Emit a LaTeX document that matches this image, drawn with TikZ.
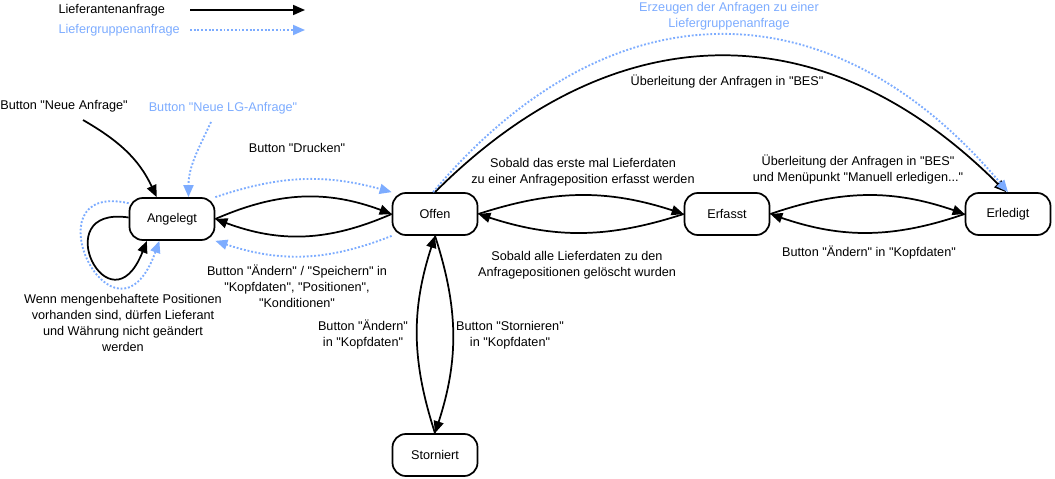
\documentclass[tikz,border=0pt]{standalone}
\usepackage{fontspec}
\setmainfont{Liberation Sans}[Ligatures=TeXOff]
\usetikzlibrary{arrows.meta, calc}
\definecolor{lgblue}{RGB}{125,172,255}
\tikzset{
  txt/.style={font=\fontsize{9.5}{12}\selectfont, align=center, inner sep=1pt},
  state/.style={txt, draw, line width=1.3pt, rounded corners=10pt, minimum width=63.75pt, minimum height=31.5pt},
  arr/.style={-{Triangle[length=9pt, width=7.5pt]}, line width=1.3pt},
  lgarr/.style={-{Triangle[length=9pt, width=7.5pt]}, line width=1.4pt, lgblue, dash pattern=on 1.4pt off 1.4pt},
}
\begin{document}
\begin{tikzpicture}[x=0.75pt, y=0.75pt]
    \useasboundingbox (0,0) rectangle (1055,-478);
    % legend
    \node[txt, anchor=west] (legLA) at (57,-10) {Lieferantenanfrage};
    \node[txt, anchor=west, text=lgblue] (legLG) at (57,-30) {Liefergruppenanfrage};
    \coordinate (legLAa) at (190,-10);
    \coordinate (legLAb) at (305,-10);
    \coordinate (legLGa) at (190,-30);
    \coordinate (legLGb) at (305,-30);
    \draw[arr] (legLAa) -- (legLAb);
    \draw[lgarr] (legLGa) -- (legLGb);
    % states
    \node[state] (angelegt) at (172,-219) {Angelegt};
    \node[state] (offen) at (435,-214) {Offen};
    \node[state] (erfasst) at (727,-214) {Erfasst};
    \node[state] (erledigt) at (1008,-214) {Erledigt};
    \node[state] (storniert) at (435,-455) {Storniert};
    % labels
    \node[txt] (lblNeue) at (64,-106) {Button "Neue Anfrage"};
    \node[txt, text=lgblue] (lblNeueLG) at (223,-108) {Button "Neue LG-Anfrage"};
    \node[txt] (lblDrucken) at (297,-148) {Button "Drucken"};
    \node[txt] (lblSpeichern) at (297,-286) {Button "Ändern" / "Speichern" in\\"Kopfdaten", "Positionen",\\"Konditionen"};
    \node[txt] (lblWenn) at (123,-323) {Wenn mengenbehaftete Positionen\\vorhanden sind, dürfen Lieferant\\und Währung nicht geändert\\werden};
    \node[txt] (lblOffenAend) at (363,-335) {Button "Ändern"\\in "Kopfdaten"};
    \node[txt] (lblStorn) at (510,-335) {Button "Stornieren"\\in "Kopfdaten"};
    \node[txt] (lblErfasst) at (583,-172) {Sobald das erste mal Lieferdaten\\zu einer Anfrageposition erfasst werden};
    \node[txt] (lblGeloescht) at (577,-265) {Sobald alle Lieferdaten zu den\\Anfragepositionen gelöscht wurden};
    \node[txt] (lblManuell) at (858,-170) {Überleitung der Anfragen in "BES"\\und Menüpunkt "Manuell erledigen..."};
    \node[txt] (lblKopf) at (869,-253) {Button "Ändern" in "Kopfdaten"};
    \node[txt] (lblBES) at (727,-82) {Überleitung der Anfragen in "BES"};
    \node[txt, text=lgblue] (lblErzeugen) at (729,-16) {Erzeugen der Anfragen zu einer\\Liefergruppenanfrage};
    % start points
    \coordinate (neuStart) at (83,-120);
    \coordinate (lgStart) at (211,-122);
    % connectors
    \draw[arr] (neuStart) to[out=-30, in=115] (angelegt.125);
    \draw[lgarr] (lgStart) to[out=-115, in=90] (angelegt.53);
    \draw[arr] (angelegt.178) .. controls (45,-205) and (110,-335) .. (angelegt.221);
    \draw[lgarr] (angelegt.160) .. controls (25,-180) and (115,-365) .. (angelegt.240);
    \draw[arr] (angelegt.east) to[bend left=22] (offen.west);
    \draw[arr] (offen.west) to[bend left=22] (angelegt.east);
    \draw[lgarr] (angelegt.north east) to[bend left=17] (offen.north west);
    \draw[lgarr] (offen.south west) to[bend left=20] (angelegt.south east);
    \draw[arr] (offen.east) to[bend left=18] (erfasst.west);
    \draw[arr] (erfasst.west) to[bend left=18] (offen.east);
    \draw[arr] (erfasst.east) to[bend left=19] (erledigt.west);
    \draw[arr] (erledigt.west) to[bend left=19] (erfasst.east);
    \draw[arr] (offen.south) to[bend left=18] (storniert.north);
    \draw[arr] (storniert.north) to[bend left=18] (offen.south);
    \draw[arr] (offen.north) to[out=45, in=135, looseness=1.15] (erledigt.95);
    \draw[lgarr] (offen.95) to[out=50, in=130, looseness=1.22] (erledigt.north);
\end{tikzpicture}
\end{document}
